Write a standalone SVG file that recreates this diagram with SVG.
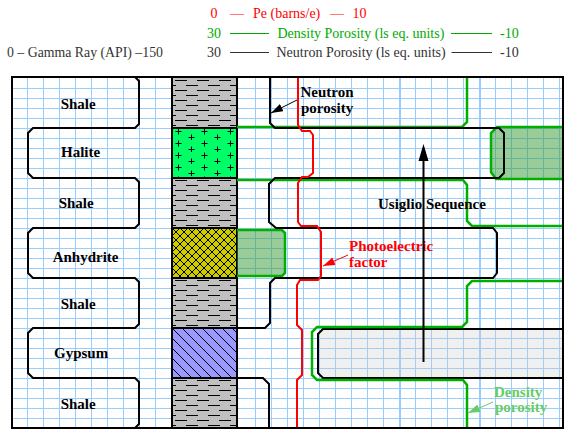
<svg xmlns="http://www.w3.org/2000/svg" width="579" height="440" viewBox="0 0 579 440">
<style>
.grid{stroke:#99ccff;stroke-width:1;fill:none}
.gridb{stroke:#99ccff;stroke-width:2;fill:none}
.crv{fill:none;stroke-width:2;stroke-linejoin:miter}
.blk{stroke:#000}
.grn{stroke:#00b000;stroke-width:2.5}
.red{stroke:#ff0000}
.hdr{font-family:"Liberation Serif","Times New Roman",serif;font-size:14px}
.lbl{font-family:"Liberation Serif","Times New Roman",serif;font-size:15px;font-weight:bold}
.edge{stroke:#000;stroke-width:2;fill:none}
</style>
<defs>
<pattern id="pShale" width="22" height="10" patternUnits="userSpaceOnUse" x="172" y="78">
<rect width="22" height="10" fill="#c0c0c0"/>
<path d="M3 2.5H15M14 7.5H22M0 7.5H4" stroke="#000" stroke-width="1"/>
</pattern>
<pattern id="pHalite" width="26" height="12" patternUnits="userSpaceOnUse" x="172" y="128">
<rect width="26" height="12" fill="#00ff66"/>
<path d="M3.5 3.5H9.5M6.5 0.5V6.5M16.5 9.5H22.5M19.5 6.5V12.5" stroke="#000" stroke-width="1"/>
</pattern>
<pattern id="pAnhy" width="8" height="8" patternUnits="userSpaceOnUse" x="172" y="228">
<rect width="8" height="8" fill="#cccc00"/>
<path d="M0 0L8 8M8 0L0 8" stroke="#000" stroke-width="1"/>
</pattern>
<pattern id="pGyp" width="10" height="10" patternUnits="userSpaceOnUse" x="172" y="328">
<rect width="10" height="10" fill="#9999ff"/>
<path d="M0 0L10 10M-1 9L1 11M9 -1L11 1" stroke="#000" stroke-width="1"/>
</pattern>
<marker id="ahK" markerWidth="12" markerHeight="8" refX="12" refY="4" orient="auto" markerUnits="userSpaceOnUse"><path d="M0,0 L12,4 L0,8 Z" fill="#000"/></marker>
<marker id="ahR" markerWidth="12" markerHeight="8" refX="12" refY="4" orient="auto" markerUnits="userSpaceOnUse"><path d="M0,0 L12,4 L0,8 Z" fill="#ff0000"/></marker>
<marker id="ahG" markerWidth="12" markerHeight="8" refX="12" refY="4" orient="auto" markerUnits="userSpaceOnUse"><path d="M0,0 L12,4 L0,8 Z" fill="#66cc66"/></marker>
</defs>
<rect width="579" height="440" fill="#fff"/>

<g id="header">
<text class="hdr" fill="#ff0000" y="17.5"><tspan x="210.5">0 </tspan><tspan x="230">— </tspan><tspan x="253">Pe (barns/e) </tspan><tspan x="330">— </tspan><tspan x="352.5">10</tspan></text>
<text class="hdr" fill="#00aa00" y="37.5"><tspan x="207">30 </tspan><tspan x="277.5">Density Porosity (ls eq. units) </tspan><tspan x="500">-10</tspan></text>
<path d="M230 33.5H269M451 33.5H492" stroke="#00aa00" stroke-width="1"/>
<text class="hdr" fill="#333" x="7" y="57" style="font-size:13.8px">0 – Gamma Ray (API) –150</text>
<text class="hdr" fill="#333" y="57"><tspan x="207">30 </tspan><tspan x="276.5">Neutron Porosity (ls eq. units) </tspan><tspan x="500">-10</tspan></text>
<path d="M230 52.5H269M451.5 52.5H492" stroke="#333" stroke-width="1"/>
</g>

<g id="grid">
<path class="grid" d="M12 88.5H563M12 98.5H563M12 108.5H563M12 118.5H563M12 128.5H563M12 138.5H563M12 148.5H563M12 158.5H563M12 168.5H563M12 178.5H563M12 188.5H563M12 198.5H563M12 208.5H563M12 218.5H563M12 228.5H563M12 238.5H563M12 248.5H563M12 258.5H563M12 268.5H563M12 278.5H563M12 288.5H563M12 298.5H563M12 308.5H563M12 318.5H563M12 328.5H563M12 338.5H563M12 348.5H563M12 358.5H563M12 368.5H563M12 378.5H563M12 388.5H563M12 398.5H563M12 408.5H563M12 418.5H563"/>
<path class="grid" d="M27.5 78V428M43.5 78V428M59.5 78V428M75.5 78V428M91.5 78V428M107.5 78V428M123.5 78V428M139.5 78V428M155.5 78V428"/>
<path class="grid" d="M255.5 78V428M271.5 78V428M287.5 78V428M303.5 78V428M319.5 78V428M335.5 78V428M351.5 78V428M367.5 78V428M383.5 78V428M415.5 78V428M431.5 78V428M447.5 78V428M463.5 78V428M495.5 78V428M511.5 78V428M527.5 78V428M543.5 78V428M559.5 78V428"/>
<path class="gridb" d="M400 78V428M480 78V428"/>
</g>

<g id="lithology">
<g id="lith-shale-1"><rect x="172" y="78" width="65" height="50" fill="url(#pShale)"/></g>
<g id="lith-halite"><rect x="172" y="128" width="65" height="50" fill="url(#pHalite)"/></g>
<g id="lith-shale-2"><rect x="172" y="178" width="65" height="50" fill="url(#pShale)"/></g>
<g id="lith-anhydrite"><rect x="172" y="228" width="65" height="50" fill="url(#pAnhy)"/></g>
<g id="lith-shale-3"><rect x="172" y="278" width="65" height="50" fill="url(#pShale)"/></g>
<g id="lith-gypsum"><rect x="172" y="328" width="65" height="50" fill="url(#pGyp)"/></g>
<g id="lith-shale-4"><rect x="172" y="378" width="65" height="50" fill="url(#pShale)"/></g>
<path class="edge" d="M172 128H237M172 178H237M172 228H237M172 278H237M172 328H237M172 378H237M172 77V428M237 77V428"/>
</g>

<g id="gamma-ray">
<path class="crv blk" d="M135,77 L139,81 L139,124 L135,128 L33,128 L28,133 L28,173 L33,178 L135,178 L139,182 L139,224 L135,228 L33,228 L28,233 L28,273 L33,278 L135,278 L139,282 L139,324 L135,328 L33,328 L28,333 L28,373 L33,378 L135,378 L139,382 L139,424 L135,428"/>
</g>

<g id="density-fills">
<path d="M563,127 L497,127 L491,133 L491,172 L496,179 L563,179" fill="#339933" fill-opacity="0.5" stroke="#00b000" stroke-width="2.5"/>
<path d="M237,230 L282,230 L285,233 L285,273 L282,276 L237,276" fill="#339933" fill-opacity="0.5" stroke="#00b000" stroke-width="2.5"/>
</g>

<g id="neutron-wrap">
<path d="M563,329 L323,329 L318,334 L318,373 L323,378 L563,378" fill="#cccccc" fill-opacity="0.3" stroke="#000" stroke-width="2"/>
</g>

<g id="density">
<path class="crv grn" d="M467,77 L467,122 L462,127 L237,127"/>
<path class="crv grn" d="M237,180 L463,180 L467,185 L467,221 L472,226 L563,226"/>
<path class="crv grn" d="M563,281 L472,281 L467,286 L467,322 L462,327 L317,327 L312,332 L312,375 L317,380 L463,380 L467,385 L467,428"/>
</g>

<g id="neutron">
<path class="crv blk" d="M270,77 L270,123 L275,128 L499,128 L504,133 L504,173 L499,178 L275,178 L269,184 L269,222 L276,228 L493,228 L497,233 L497,273 L493,278 L275,278 L270,283 L270,323 L265,328 L237,328"/>
<path class="crv blk" d="M237,378 L263,378 L269,384 L269,428"/>
</g>

<g id="pe">
<path class="crv red" d="M298,77 L298,125 L302,131 L310,131 L313,135 L313,173 L308,177 L302,177 L298,183 L298,222 L301,226 L317,226 L321,232 L321,276 L318,280 L300,280 L297,285 L297,325 L302,330 L302,375 L297,380 L297,428"/>
</g>

<g id="frame">
<rect x="12" y="77" width="551" height="351" fill="none" stroke="#000" stroke-width="2"/>
</g>

<g id="labels">
<text class="lbl" x="60.7" y="109">Shale</text>
<text class="lbl" x="61" y="157">Halite</text>
<text class="lbl" x="58.7" y="208">Shale</text>
<text class="lbl" x="52.7" y="262">Anhydrite</text>
<text class="lbl" x="60.7" y="309">Shale</text>
<text class="lbl" x="54" y="358">Gypsum</text>
<text class="lbl" x="60.7" y="409">Shale</text>
<text class="lbl" x="378" y="209">Usiglio Sequence</text>
<text class="lbl" x="300.5" y="97">Neutron</text>
<text class="lbl" x="301" y="113">porosity</text>
<text class="lbl" fill="#ff0000" x="349" y="251">Photoelectric</text>
<text class="lbl" fill="#ff0000" x="349" y="267">factor</text>
<text class="lbl" fill="#66cc66" x="494" y="397">Density</text>
<text class="lbl" fill="#66cc66" x="495" y="412">porosity</text>
</g>

<g id="connectors">
<line x1="423.5" y1="362" x2="423.5" y2="158" stroke="#000" stroke-width="2"/>
<polygon points="423.5,144 418.5,161 428.5,161" fill="#000"/>
<line x1="297" y1="100" x2="271" y2="113" stroke="#000" stroke-width="1" marker-end="url(#ahK)"/>
<line x1="348" y1="255" x2="323" y2="266" stroke="#ff0000" stroke-width="1" marker-end="url(#ahR)"/>
<line x1="493" y1="402" x2="468" y2="413" stroke="#66cc66" stroke-width="1" marker-end="url(#ahG)"/>
</g>
</svg>
